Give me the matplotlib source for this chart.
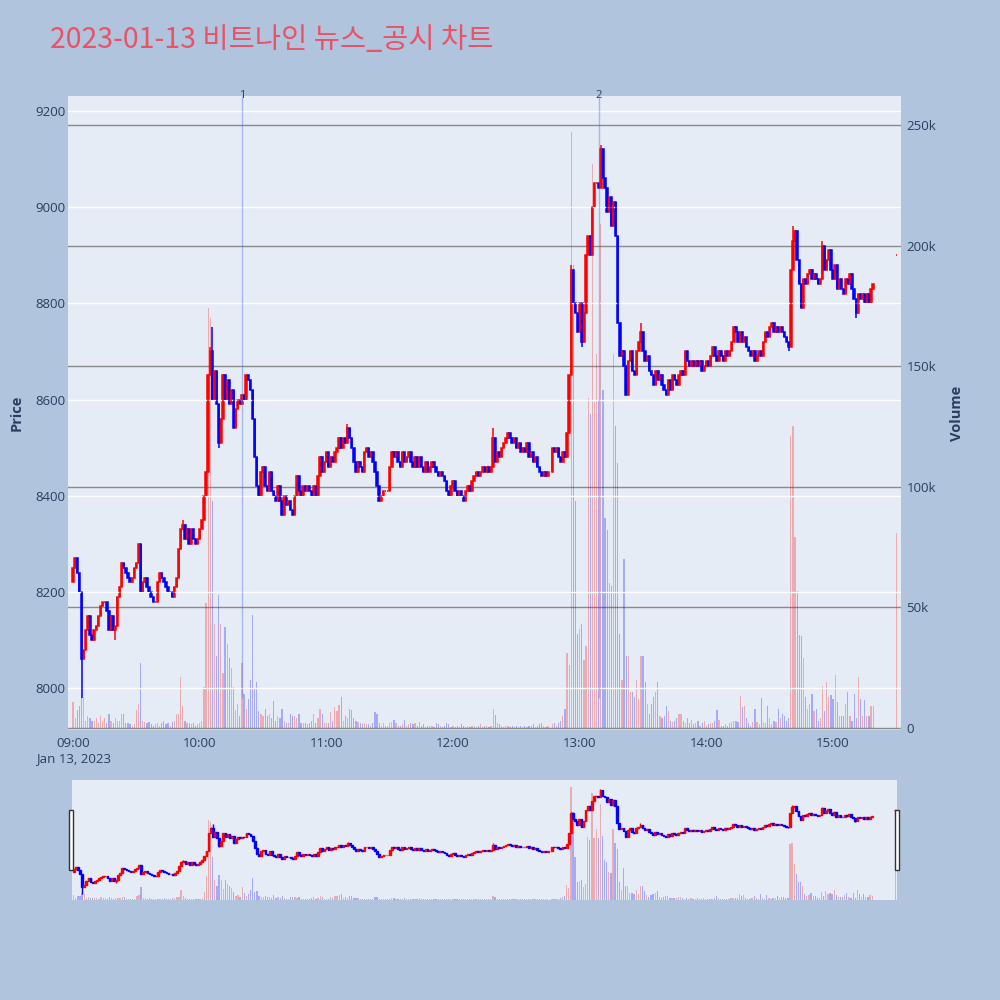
import matplotlib
matplotlib.use("Agg")
import matplotlib.pyplot as plt
from matplotlib.patches import Rectangle
import numpy as np
import pandas as pd

plt.rcParams["font.family"] = ["Open Sans", "Noto Sans CJK KR", "DejaVu Sans"]

TITLE = "2023-01-13 비트나인 뉴스_공시 차트"
SESSION_START = "2023-01-13 09:00"
AUCTION_TIME = "2023-01-13 15:30"

FIRST_OPEN = 8220
# one close per minute, 09:00 .. 15:19 (None = no trade)
CLOSES = [
    8250, 8270, 8240, 8200, 8060, 8080, 8120, 8150, 8110, 8100,
    8120, 8130, 8150, 8170, 8180, 8180, 8160, 8120, 8150, 8120,
    8130, 8190, 8210, 8260, 8250, 8240, 8230, 8220, 8230, 8250,
    8260, 8300, 8200, 8220, 8230, 8210, 8200, 8190, 8180, 8180,
    8220, 8240, 8230, 8220, 8210, 8200, 8200, 8190, 8210, 8230,
    8290, 8330, 8340, 8310, 8330, 8300, 8330, 8310, 8300, 8310,
    8330, 8350, 8400, 8450, 8650, 8700, 8600, 8660, 8590, 8510,
    8560, 8650, 8600, 8640, 8590, 8620, 8540, 8580, 8600, 8590,
    8610, 8600, 8650, 8640, 8620, 8560, 8480, 8420, 8400, 8450,
    8460, 8420, 8410, 8450, 8410, 8400, 8390, 8420, 8390, 8360,
    8400, 8380, 8390, 8370, 8360, 8400, 8440, 8410, 8400, 8420,
    8410, 8420, 8410, 8400, 8420, 8400, 8440, 8480, 8450, 8470,
    8490, 8460, 8480, 8470, 8490, 8500, 8520, 8500, 8520, 8510,
    8540, 8520, 8500, 8470, 8450, 8470, 8460, 8450, 8490, 8500,
    8480, 8490, 8470, 8450, 8420, 8390, 8400, 8410, 8410, 8410,
    8460, 8490, 8480, 8490, 8470, 8460, 8490, 8470, 8480, 8490,
    8470, 8460, 8480, 8460, 8480, 8460, 8450, 8470, 8450, 8460,
    8470, 8460, 8450, 8440, 8450, 8440, 8430, 8410, 8400, 8420,
    8430, 8410, 8400, 8410, 8400, 8390, 8410, 8420, 8410, 8430,
    8440, 8450, 8440, 8450, 8460, 8450, 8460, 8450, 8460, 8520,
    8470, 8490, 8480, 8500, 8510, 8520, 8530, 8520, 8510, 8520,
    8500, 8510, 8490, 8500, 8490, 8510, 8480, 8490, 8470, 8480,
    8460, 8450, 8440, 8450, 8440, 8450, None, 8500, 8490, 8500,
    8480, 8470, 8490, 8480, 8530, 8650, 8870, 8800, 8780, 8740,
    8800, 8720, 8780, 8900, 8940, 8900, 9000, 9050, 9050, 9040,
    9120, 9060, 9040, 8990, 9020, 8960, 9010, 8940, 8760, 8690,
    8700, 8670, 8610, 8680, 8700, 8660, 8650, 8700, 8720, 8740,
    8700, 8680, 8690, 8660, 8650, 8630, 8660, 8640, 8650, 8630,
    8620, 8610, 8640, 8620, 8650, 8640, 8630, 8650, 8660, 8650,
    8700, 8680, 8670, 8680, 8670, 8680, 8670, 8680, 8660, 8670,
    8680, 8670, 8690, 8710, 8690, 8680, 8700, 8690, 8680, 8700,
    8690, 8700, 8720, 8750, 8740, 8720, 8740, 8720, 8730, 8710,
    8700, 8690, 8700, 8680, 8690, 8700, 8690, 8720, 8740, 8730,
    8750, 8760, 8740, 8750, 8740, 8750, 8740, 8730, 8720, 8710,
    8870, 8930, 8950, 8890, 8840, 8790, 8850, 8840, 8860, 8870,
    8850, 8860, 8850, 8840, 8850, 8920, 8870, 8890, 8910, 8870,
    8850, 8880, 8830, 8850, 8830, 8820, 8850, 8840, 8860, 8830,
    8810, 8780, 8820, 8810, 8820, 8800, 8820, 8800, 8830, 8840,
]
AUCTION_PRICE = 8900

# volume per minute, thousands of shares
VOLUME_K = [
    10.8, 4, 7.5, 9, 14, 13, 3, 5, 4, 3,
    3, 4, 2, 5, 3, 4, 2, 6, 3, 2,
    4, 3, 3, 6, 6, 2, 2, 1.5, 1, 1.5,
    7.5, 10, 27, 3, 2.5, 2, 2.5, 1.5, 1, 1.5,
    2, 1, 2, 3, 1.5, 2, 1, 2.5, 3, 6,
    6, 21, 9, 3, 2, 2, 1.5, 2, 1, 1.5,
    2, 3, 17, 52, 174, 170, 94, 43, 30, 55,
    43, 23, 42, 35, 29, 25, 17, 7.5, 10, 5,
    27, 14, 8, 12, 20, 47, 16, 19, 7, 6,
    5, 8, 5, 6, 4, 11, 3, 5, 4, 8,
    3, 2, 2, 6, 5, 5, 4, 6, 2, 2,
    2, 1.5, 2, 3, 6, 2, 4, 8, 6, 2,
    2, 2, 6.5, 3, 8.7, 7, 9.5, 13, 3, 5,
    4, 8, 7.5, 4, 3, 2.5, 2, 1.5, 2, 1.5,
    1.5, 1, 2, 6.6, 6, 2, 1, 2, 1, 1,
    2, 2.5, 3.5, 2, 1, 1, 1.5, 3.3, 1, 1.5,
    2, 1.5, 2, 1, 2.5, 1, 1.5, 0.5, 1, 1,
    1, 0.5, 2, 1.5, 1, 0.5, 1, 2, 1.5, 0.5,
    1, 0.5, 1, 0.5, 1.5, 1, 0.5, 1, 0.5, 1,
    1, 0.5, 1, 1.5, 0.5, 1, 1, 0.5, 1, 8,
    5.5, 2, 1.5, 1, 0.5, 1, 1, 0.5, 1, 0.5,
    1, 0.5, 1, 0.5, 1, 0.5, 1, 1, 1.5, 0.5,
    1, 1.5, 2, 1, 0.5, 1, 0, 1.5, 2, 1,
    2, 3, 5, 8, 31, 26, 247, 192, 94, 39,
    41, 43, 28, 34, 137, 130, 234, 135, 155, 136,
    209, 140, 87, 82, 60, 59, 155, 125, 110, 39,
    20, 70, 30, 30, 15, 15, 13, 20, 12, 30,
    30, 19, 10, 6, 10, 13, 15, 19, 5, 4,
    5, 9, 7, 3, 2.5, 3, 4, 6, 6, 3,
    2, 4, 2, 3.3, 1.5, 2, 3, 1, 2, 3,
    1, 1.5, 2, 2, 3, 7.5, 3.5, 1, 1, 1.5,
    1, 2, 2.5, 3, 3, 2.5, 13.4, 8.7, 9.3, 4,
    2, 1, 2.5, 8, 2.5, 1.5, 12.6, 2.5, 2, 9.3,
    4, 1.5, 3, 2.5, 8, 4, 6, 5, 3, 4,
    121, 125, 79, 57, 38.6, 38, 29, 13, 8, 10,
    14, 7, 8, 3, 4, 17.4, 7, 19, 13, 13.6,
    12, 22, 10.6, 5, 5, 5, 10, 15, 5, 3,
    14, 4, 21, 12, 5, 11.5, 5, 5, 9.3, 9,
]
AUCTION_VOLUME_K = 81

# wicks that stick out of the bodies (minute index -> price)
HIGH_WICKS = {1: 8270, 52: 8350, 65: 8710, 66: 8750, 130: 8550, 199: 8540,
              236: 8880, 250: 9130, 269: 8760, 341: 8960, 355: 8930}
LOW_WICKS = {4: 7980, 20: 8100, 69: 8500, 241: 8710, 339: 8700, 371: 8770}

NEWS_TIMES = ["2023-01-13 10:20", "2023-01-13 13:09"]
NEWS_LABELS = ["1", "2"]

PRICE_TICKS = [8000, 8200, 8400, 8600, 8800, 9000, 9200]
VOLUME_TICKS = [0, 50000, 100000, 150000, 200000, 250000]
VOLUME_TICK_LABELS = ["0", "50k", "100k", "150k", "200k", "250k"]
HOUR_LABELS = ["09:00\nJan 13, 2023", "10:00", "11:00", "12:00", "13:00", "14:00", "15:00"]

PAPER = "#B0C4DE"
PLOT_BG = "#E5ECF6"
TEXT = "#2a3f5f"
UP = "#FF0000"
DOWN = "#0000FF"


def build_frame():
    times = list(pd.date_range(SESSION_START, periods=len(CLOSES), freq="min"))
    times.append(pd.Timestamp(AUCTION_TIME))
    df = pd.DataFrame({
        "time": times,
        "close": [np.nan if c is None else c for c in CLOSES] + [AUCTION_PRICE],
        "volume": [v * 1000 for v in VOLUME_K] + [AUCTION_VOLUME_K * 1000],
    })
    df["open"] = df["close"].ffill().shift()
    df.loc[0, "open"] = FIRST_OPEN
    df.loc[len(df) - 1, "open"] = AUCTION_PRICE
    df["high"] = df[["open", "close"]].max(axis=1)
    df["low"] = df[["open", "close"]].min(axis=1)
    for idx, value in HIGH_WICKS.items():
        df.loc[idx, "high"] = value
    for idx, value in LOW_WICKS.items():
        df.loc[idx, "low"] = value
    df["x"] = (df["time"] - pd.Timestamp(SESSION_START)).dt.total_seconds() / 60
    df["color"] = np.where(df["close"] >= df["open"], UP, DOWN)
    return df


def draw_candles(ax, ax_v, df, body_w, edge_lw, vol_w):
    traded = df.dropna(subset=["close"])
    ax_v.bar(df["x"], df["volume"], width=vol_w, color=df["color"], alpha=0.28, linewidth=0)
    ax.vlines(traded["x"], traded["low"], traded["high"], colors=traded["color"], linewidth=edge_lw)
    ax.bar(traded["x"], traded["close"] - traded["open"], bottom=traded["open"],
           width=body_w, color=traded["color"], edgecolor=traded["color"], linewidth=edge_lw)


def layer(ax, ax_v):
    # volume axes sits underneath and carries the plot background
    ax.set_zorder(ax_v.get_zorder() + 1)
    ax.patch.set_visible(False)
    ax_v.patch.set_visible(True)
    ax_v.patch.set_facecolor(PLOT_BG)
    for a in (ax, ax_v):
        for s in a.spines.values():
            s.set_visible(False)


df = build_frame()
price_lim = (7913, 9231)
vol_lim = (-830, 262000)

fig = plt.figure(figsize=(10, 10), dpi=100, facecolor=PAPER)

ax = fig.add_axes([0.068, 0.270, 0.833, 0.634])
ax_v = ax.twinx()
layer(ax, ax_v)
draw_candles(ax, ax_v, df, body_w=0.7, edge_lw=1.1, vol_w=0.6)

ax.set_xlim(-2.4, 392.2)
ax.set_ylim(*price_lim)
ax_v.set_ylim(*vol_lim)

ax.set_yticks(PRICE_TICKS)
ax.set_yticklabels([str(t) for t in PRICE_TICKS])
ax_v.set_yticks(VOLUME_TICKS)
ax_v.set_yticklabels(VOLUME_TICK_LABELS)
ax.set_xticks([60 * i for i in range(len(HOUR_LABELS))])
ax.set_xticklabels(HOUR_LABELS, linespacing=1.25)

ax.grid(axis="y", color="white", linewidth=1)
ax.grid(axis="x", visible=False)
ax_v.grid(axis="y", color="#8a8a8a", linewidth=1)
ax_v.set_axisbelow(True)

ax.tick_params(axis="y", length=0, pad=2, labelsize=9.5, labelcolor=TEXT)
ax.tick_params(axis="x", length=0, pad=5, labelsize=9.5, labelcolor=TEXT)
ax_v.tick_params(axis="y", length=0, pad=4, labelsize=9.5, labelcolor=TEXT)
ax.set_ylabel("Price", fontsize=10.5, fontweight="bold", color=TEXT, labelpad=8)
ax_v.set_ylabel("Volume", fontsize=10.5, fontweight="bold", color=TEXT, labelpad=10)

t0 = pd.Timestamp(SESSION_START)
for t, label in zip(NEWS_TIMES, NEWS_LABELS):
    xm = (pd.Timestamp(t) - t0).total_seconds() / 60
    ax.vlines(xm, df["low"].min(), price_lim[1], color="royalblue", alpha=0.4, linewidth=1)
    ax.text(xm, price_lim[1] + 2, label, ha="center", va="center", fontsize=8, color=TEXT)

fig.text(0.050, 0.960, TITLE, fontsize=20.5, color="#EA5267", ha="left", va="center",
         family=["Noto Sans CJK KR", "DejaVu Sans"])

# range slider
sl = fig.add_axes([0.072, 0.100, 0.825, 0.120])
sl_v = sl.twinx()
layer(sl, sl_v)
draw_candles(sl, sl_v, df, body_w=0.8, edge_lw=1.0, vol_w=0.6)
sl.set_xlim(-0.8, 390.8)
sl.set_ylim(*price_lim)
sl_v.set_ylim(*vol_lim)
for a in (sl, sl_v):
    a.set_xticks([])
    a.set_yticks([])

for left in (0.069, 0.895):
    fig.patches.append(Rectangle((left, 0.130), 0.004, 0.060, transform=fig.transFigure,
                                 facecolor="white", edgecolor="#333333", linewidth=1))

fig.savefig("out.png", dpi=100, facecolor=PAPER)
